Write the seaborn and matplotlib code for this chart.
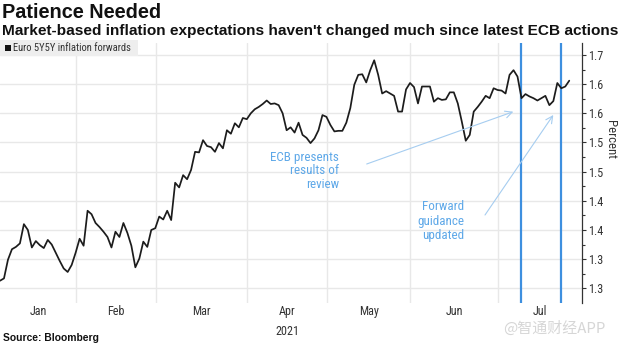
import numpy as np
import pandas as pd
import matplotlib
matplotlib.use("Agg")
import matplotlib.pyplot as plt
import matplotlib.transforms as mtransforms
from matplotlib.patches import Rectangle
from matplotlib import font_manager as fm
import seaborn as sns

# ---------------- data ----------------
start_date = "2021-01-04"
end_date = "2021-07-26"
market_holidays = ["2021-04-02", "2021-04-05"]
series_name = "Euro 5Y5Y inflation forwards"

forward_values = [
    1.313, 1.317, 1.349, 1.367, 1.371, 1.377, 1.410, 1.400, 1.370, 1.381,
    1.374, 1.369, 1.383, 1.375, 1.361, 1.347, 1.334, 1.328, 1.340, 1.361,
    1.385, 1.373, 1.433, 1.427, 1.412, 1.405, 1.397, 1.388, 1.370, 1.397,
    1.388, 1.412, 1.395, 1.373, 1.336, 1.351, 1.380, 1.371, 1.400, 1.403,
    1.423, 1.418, 1.433, 1.417, 1.481, 1.473, 1.494, 1.487, 1.503, 1.534,
    1.533, 1.554, 1.544, 1.542, 1.534, 1.549, 1.540, 1.571, 1.565, 1.583,
    1.576, 1.592, 1.590, 1.600, 1.607, 1.611, 1.616, 1.622, 1.616, 1.617,
    1.614, 1.600, 1.571, 1.576, 1.567, 1.584, 1.563, 1.558, 1.549, 1.557,
    1.571, 1.597, 1.594, 1.580, 1.569, 1.570, 1.570, 1.584, 1.609, 1.649,
    1.666, 1.667, 1.653, 1.674, 1.691, 1.666, 1.634, 1.638, 1.634, 1.630,
    1.603, 1.603, 1.641, 1.652, 1.645, 1.617, 1.646, 1.646, 1.646, 1.620,
    1.626, 1.623, 1.624, 1.636, 1.636, 1.617, 1.586, 1.553, 1.563, 1.603,
    1.611, 1.620, 1.630, 1.626, 1.643, 1.640, 1.639, 1.634, 1.666, 1.674,
    1.663, 1.626, 1.633, 1.629, 1.626, 1.622, 1.626, 1.630, 1.614, 1.621,
    1.652, 1.643, 1.646, 1.656,
]

tick_values = [1.30, 1.35, 1.40, 1.45, 1.50, 1.55, 1.60, 1.65, 1.70]
tick_labels = ["1.3", "1.3", "1.4", "1.4", "1.5", "1.5", "1.6", "1.6", "1.7"]
month_labels = ["Jan", "Feb", "Mar", "Apr", "May", "Jun", "Jul"]
year_label = "2021"
event_dates = ["2021-07-08", "2021-07-22"]
event_notes = [["ECB presents", "results of", "review"],
               ["Forward", "guidance", "updated"]]

title = "Patience Needed"
subtitle = "Market-based inflation expectations haven't changed much since latest ECB actions"
source = "Source: Bloomberg"
watermark = "@智通财经APP"
y_label = "Percent"

# ---------------- style ----------------
sns.set_theme(style="white")
names = {f.name for f in fm.fontManager.ttflist}


def pick(*cands):
    for c in cands:
        if c in names:
            return c
    return "DejaVu Sans"


BODY = pick("Liberation Sans Narrow", "Roboto Condensed", "Roboto", "Liberation Sans")
BOLD = pick("Liberation Sans", "Roboto")
plt.rcParams["font.family"] = [BODY, "DejaVu Sans"]

W, H = 618, 343


def fx(x):
    return x / W


def fy(y):
    return 1 - y / H


fig = plt.figure(figsize=(W / 100, H / 100), dpi=100)
fig.patch.set_facecolor("white")
ax = fig.add_axes([0, fy(303), fx(582), (303 - 43) / H])
ax.set_facecolor("white")

dates = pd.bdate_range(start_date, end_date, freq="C", holidays=market_holidays)
df = pd.DataFrame({"date": dates, "pos": np.arange(len(dates)), "value": forward_values})

sns.lineplot(data=df, x="pos", y="value", ax=ax, color="#1c1c1c",
             linewidth=1.25, legend=False, zorder=5)

XL = (0.0, 146.2)
ax.set_xlim(*XL)
ax.set_ylim(1.2748, 1.7206)

# month boundaries & labels
first_pos = df.groupby(df["date"].dt.month)["pos"].min().values
bounds = first_pos[1:] - 0.9
edges = np.concatenate([[XL[0]], bounds, [XL[1]]])
centers = (edges[:-1] + edges[1:]) / 2
for b in bounds:
    ax.axvline(b, color="#e8e8e8", lw=1.0, zorder=1)
for t in tick_values:
    ax.axhline(t, color="#e8e8e8", lw=1.0, zorder=1)

ax.set_xticks(centers)
ax.set_xticklabels(month_labels)
ax.tick_params(axis="x", length=0, pad=1.6, labelsize=8.7, labelcolor="#333333")

blend = mtransforms.blended_transform_factory(ax.transData, fig.transFigure)
ax.text(centers[3], fy(331.5), year_label, transform=blend, ha="center", va="center",
        fontsize=8.7, color="#333333")

# y axis on right
ax.yaxis.tick_right()
ax.set_yticks(tick_values)
ax.set_yticklabels(tick_labels)
mids = [(a + b) / 2 for a, b in zip(tick_values[:-1], tick_values[1:])]
ax.set_yticks(mids, minor=True)
ax.tick_params(axis="y", which="major", direction="out", length=3, width=0.8,
               color="#333333", pad=1.5, labelsize=8.7, labelcolor="#333333")
ax.tick_params(axis="y", which="minor", direction="out", length=1.8, width=0.8,
               color="#333333")
ax.set_xlabel("")
ax.set_ylabel("")
for s in ["left", "top", "bottom"]:
    ax.spines[s].set_visible(False)
ax.spines["right"].set_color("#333333")
ax.spines["right"].set_linewidth(0.9)

fig.text(fx(610), fy(140), y_label, rotation=270, ha="center", va="center",
         fontsize=9.2, color="#333333")

# event lines
for d in event_dates:
    p = df.loc[df["date"] == pd.Timestamp(d), "pos"].iloc[0]
    ax.axvline(p, color="#3d8fdf", lw=1.6, zorder=3)

# annotations
renderer = fig.canvas.get_renderer()


def fit(t, target):
    w = t.get_window_extent(renderer).width
    t.set_fontsize(t.get_fontsize() * target / w)
    return t.get_fontsize()


note_color = "#5ea8e8"
probe = fig.text(0, 0, event_notes[0][0], fontsize=9)
note_fs = fit(probe, 68.6)
probe.remove()

for line, yy in zip(event_notes[0], [157, 171, 185]):
    fig.text(fx(339.3), fy(yy), line, ha="right", va="center", fontsize=note_fs,
             color=note_color)
for line, yy in zip(event_notes[1], [206.7, 221, 235]):
    fig.text(fx(464.3), fy(yy), line, ha="right", va="center", fontsize=note_fs,
             color=note_color)

arrow_kw = dict(arrowstyle="->,head_length=0.5,head_width=0.25", color="#a6cdf0",
                lw=0.8, shrinkA=0, shrinkB=0, mutation_scale=10)
ax.annotate("", xy=(fx(513.3), fy(111.7)), xycoords="figure fraction",
            xytext=(fx(366.7), fy(164)), textcoords="figure fraction",
            arrowprops=arrow_kw, zorder=6)
ax.annotate("", xy=(fx(553.3), fy(115)), xycoords="figure fraction",
            xytext=(fx(485), fy(215)), textcoords="figure fraction",
            arrowprops=arrow_kw, zorder=6)

# legend (manual, top-left)
fig.add_artist(Rectangle((fx(0), fy(56)), fx(138), 16 / H, transform=fig.transFigure,
                         facecolor="#eeeeee", edgecolor="none", zorder=2))
fig.add_artist(Rectangle((fx(5), fy(51)), fx(6), 6 / H, transform=fig.transFigure,
                         facecolor="#111111", edgecolor="none", zorder=3))
lt = fig.text(fx(13), fy(48), series_name, ha="left", va="center", fontsize=7,
              color="#333333", zorder=4)
fit(lt, 120)

# titles
tt = fig.text(fx(2), fy(18.5), title, ha="left", va="baseline", fontsize=15,
              fontweight="bold", family=[BOLD, "DejaVu Sans"], color="#111111")
fit(tt, 160)
st = fig.text(fx(2), fy(35.5), subtitle, ha="left", va="baseline", fontsize=10,
              fontweight="bold", family=[BOLD, "DejaVu Sans"], color="#111111")
fit(st, 612)
so = fig.text(fx(3), fy(337.7), source, ha="left", va="center", fontsize=7,
              fontweight="bold", family=[BOLD, "DejaVu Sans"], color="#111111")
fit(so, 95)

wm = fig.text(fx(503), fy(328), watermark, ha="left", va="center", fontsize=10,
              family=["Noto Sans CJK SC", "DejaVu Sans"], color="#d6d6d6")
fit(wm, 102)

fig.savefig("out.png", dpi=100, facecolor="white")
